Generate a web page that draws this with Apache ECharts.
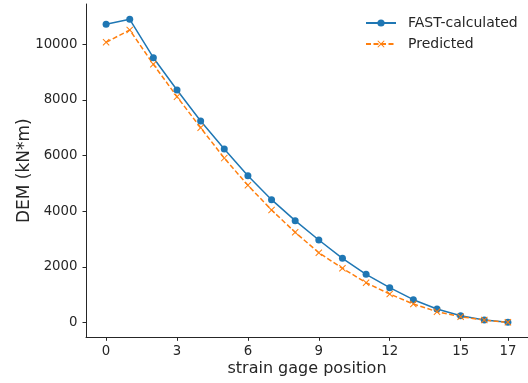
<!DOCTYPE html>
<html><head><meta charset="utf-8">
<script src="https://cdn.jsdelivr.net/npm/echarts@6/dist/echarts.min.js"></script>
<style>html,body{margin:0;padding:0;background:#fff}#c{width:528px;height:383px}</style>
</head><body><div id="c"></div>
<script>
const positions = [0,1,2,3,4,5,6,7,8,9,10,11,12,13,14,15,16,17];
const fastCalculated = [10715,10894,9515,8355,7242,6237,5275,4417,3663,2970,2312,1737,1257,826,492,251,97,14];
const predicted = [10068,10510,9278,8115,7002,5910,4933,4047,3246,2513,1953,1436,1030,671,395,215,97,14];
const xTicks = [0,3,6,9,12,15,17];
const yTicks = [0,2000,4000,6000,8000,10000];
const seriesNames = ['FAST-calculated','Predicted'];

const font = 'DejaVu Sans';
const axisCol = '#262626';
const xSym = 'path://M0,1 L1,0 L5,4 L9,0 L10,1 L6,5 L10,9 L9,10 L5,6 L1,10 L0,9 L4,5 Z';

const chart = echarts.init(document.getElementById('c'), null, {renderer:'canvas'});
chart.setOption({
  animation:false,
  backgroundColor:'#fff',
  grid:{left:86, top:4, width:447, height:333.3, containLabel:false},
  legend:{
    orient:'vertical', left:360, top:11, itemWidth:30, itemHeight:9, itemGap:7,
    textStyle:{fontFamily:font, fontSize:14, color:axisCol, padding:[0,0,0,7]},
    data:seriesNames
  },
  xAxis:{
    type:'value', min:-0.85, max:17.85,
    name:'strain gage position', nameLocation:'middle', nameGap:24, nameMoveOverlap:false,
    nameTextStyle:{fontFamily:font, fontSize:16, color:axisCol},
    splitLine:{show:false},
    axisLine:{show:true, onZero:false, lineStyle:{color:axisCol, width:1}},
    axisTick:{show:true, length:3.5, lineStyle:{color:axisCol}, customValues:xTicks},
    axisLabel:{fontFamily:font, fontSize:13.3, color:axisCol, margin:8, customValues:xTicks,
      formatter:v=>String(v)}
  },
  yAxis:{
    type:'value', min:-524, max:11443,
    name:'DEM (kN*m)', nameLocation:'middle', nameGap:53, nameRotate:90, nameMoveOverlap:false,
    nameTextStyle:{fontFamily:font, fontSize:17, color:axisCol},
    splitLine:{show:false},
    axisLine:{show:true, onZero:false, lineStyle:{color:axisCol, width:1}},
    axisTick:{show:true, length:3.5, lineStyle:{color:axisCol}, customValues:yTicks},
    axisLabel:{fontFamily:font, fontSize:13.3, color:axisCol, margin:8.5, customValues:yTicks,
      formatter:v=>String(v)}
  },
  series:[
    {
      name:seriesNames[0], type:'line',
      data:positions.map((p,i)=>[p, fastCalculated[i]]),
      symbol:'circle', symbolSize:7, showAllSymbol:true,
      itemStyle:{color:'#1f77b4'},
      lineStyle:{color:'#1f77b4', width:1.5}
    },
    {
      name:seriesNames[1], type:'line',
      data:positions.map((p,i)=>[p, predicted[i]]),
      symbol:xSym, symbolSize:7, showAllSymbol:true,
      itemStyle:{color:'#ff7f0e'},
      lineStyle:{color:'#ff7f0e', width:1.5, type:[5,2.5]}
    }
  ]
});
</script></body></html>
